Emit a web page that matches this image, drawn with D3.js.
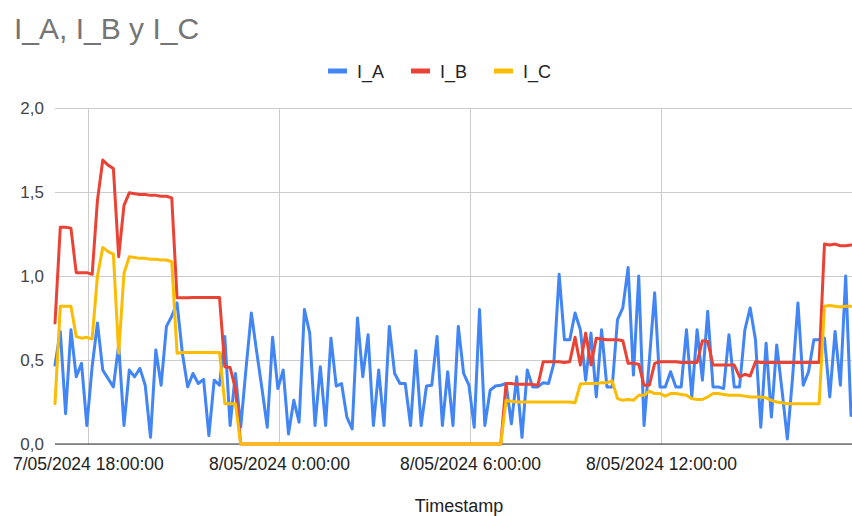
<!DOCTYPE html>
<html>
<head>
<meta charset="utf-8">
<script src="https://cdn.jsdelivr.net/npm/d3@7"></script>
<style>
  html, body { margin: 0; padding: 0; background: #fff; }
  svg { display: block; font-family: Arial, "Liberation Sans", sans-serif; }
</style>
</head>
<body>
<svg id="chart" width="852" height="516"></svg>
<script>
// ---- Data ----
const title = "I_A, I_B y I_C";
const seriesNames = ["I_A", "I_B", "I_C"];
const seriesColors = ["#4285F4", "#EA4335", "#FBBC04"];
const startTime = "2024-05-07T16:58:00";  // first sample
const stepMinutes = 10;                    // sampling interval
const yTicks = [0, 0.5, 1.0, 1.5, 2.0];
const xTickTimes = ["2024-05-07T18:00:00", "2024-05-08T00:00:00", "2024-05-08T06:00:00", "2024-05-08T12:00:00"];
const xTitle = "Timestamp";

const I_A = [
  0.47, 0.67, 0.18, 0.68, 0.40, 0.48, 0.11, 0.46, 0.72, 0.44,
  0.39, 0.34, 0.59, 0.11, 0.44, 0.40, 0.45, 0.35, 0.04, 0.56,
  0.35, 0.70, 0.76, 0.84, 0.54, 0.34, 0.42, 0.36, 0.385, 0.05,
  0.38, 0.35, 0.64, 0.11, 0.42, 0.10, 0.45, 0.78, 0.55, 0.33,
  0.10, 0.635, 0.33, 0.44, 0.06, 0.26, 0.13, 0.80, 0.66, 0.11,
  0.46, 0.11, 0.63, 0.345, 0.36, 0.16, 0.09, 0.75, 0.40, 0.65,
  0.11, 0.44, 0.11, 0.70, 0.42, 0.36, 0.36, 0.11, 0.555, 0.11,
  0.345, 0.35, 0.64, 0.11, 0.43, 0.11, 0.70, 0.42, 0.35, 0.10,
  0.80, 0.11, 0.32, 0.345, 0.35, 0.36, 0.12, 0.40, 0.04, 0.44,
  0.34, 0.34, 0.365, 0.36, 0.48, 1.01, 0.62, 0.62, 0.78, 0.68,
  0.38, 0.66, 0.28, 0.68, 0.34, 0.34, 0.74, 0.81, 1.05, 0.41,
  1.00, 0.11, 0.50, 0.90, 0.34, 0.34, 0.43, 0.34, 0.34, 0.68,
  0.28, 0.68, 0.38, 0.79, 0.34, 0.34, 0.33, 0.65, 0.34, 0.34,
  0.68, 0.81, 0.62, 0.10, 0.60, 0.16, 0.59, 0.32, 0.03, 0.40,
  0.84, 0.35, 0.43, 0.62, 0.62, 0.63, 0.28, 0.67, 0.35, 1.00,
  0.17
];
const I_B = [
  0.72, 1.29, 1.29, 1.285, 1.02, 1.02, 1.02, 1.01, 1.45, 1.69,
  1.66, 1.64, 1.115, 1.42, 1.495, 1.49, 1.485, 1.485, 1.48, 1.48,
  1.475, 1.475, 1.465, 0.87, 0.87, 0.87, 0.872, 0.872, 0.872, 0.872,
  0.872, 0.872, 0.46, 0.455, 0.33, 0, 0, 0, 0, 0,
  0, 0, 0, 0, 0, 0, 0, 0, 0, 0,
  0, 0, 0, 0, 0, 0, 0, 0, 0, 0,
  0, 0, 0, 0, 0, 0, 0, 0, 0, 0,
  0, 0, 0, 0, 0, 0, 0, 0, 0, 0,
  0, 0, 0, 0, 0, 0.36, 0.36, 0.355, 0.355, 0.355,
  0.355, 0.35, 0.49, 0.49, 0.49, 0.49, 0.485, 0.49, 0.635, 0.47,
  0.66, 0.47, 0.63, 0.625, 0.62, 0.62, 0.62, 0.615, 0.48, 0.48,
  0.475, 0.35, 0.35, 0.48, 0.49, 0.49, 0.49, 0.49, 0.485, 0.485,
  0.485, 0.485, 0.615, 0.61, 0.47, 0.47, 0.47, 0.47, 0.47, 0.40,
  0.415, 0.405, 0.49, 0.485, 0.485, 0.485, 0.485, 0.485, 0.485, 0.485,
  0.485, 0.485, 0.485, 0.485, 0.485, 1.19, 1.185, 1.19, 1.18, 1.18,
  1.185
];
const I_C = [
  0.24, 0.82, 0.82, 0.82, 0.64, 0.63, 0.635, 0.625, 1.00, 1.17,
  1.145, 1.13, 0.54, 1.016, 1.115, 1.11, 1.105, 1.105, 1.10, 1.10,
  1.095, 1.095, 1.085, 0.54, 0.545, 0.545, 0.545, 0.545, 0.545, 0.545,
  0.545, 0.545, 0.24, 0.24, 0.24, 0, 0, 0, 0, 0,
  0, 0, 0, 0, 0, 0, 0, 0, 0, 0,
  0, 0, 0, 0, 0, 0, 0, 0, 0, 0,
  0, 0, 0, 0, 0, 0, 0, 0, 0, 0,
  0, 0, 0, 0, 0, 0, 0, 0, 0, 0,
  0, 0, 0, 0, 0, 0.26, 0.255, 0.25, 0.25, 0.25,
  0.25, 0.25, 0.25, 0.25, 0.25, 0.25, 0.25, 0.25, 0.245, 0.357,
  0.36, 0.36, 0.36, 0.365, 0.365, 0.375, 0.27, 0.26, 0.265, 0.26,
  0.29, 0.29, 0.315, 0.30, 0.30, 0.285, 0.30, 0.30, 0.295, 0.29,
  0.27, 0.265, 0.265, 0.28, 0.30, 0.30, 0.295, 0.29, 0.29, 0.29,
  0.285, 0.28, 0.28, 0.28, 0.275, 0.26, 0.25, 0.245, 0.24, 0.24,
  0.24, 0.24, 0.24, 0.24, 0.24, 0.82, 0.825, 0.82, 0.815, 0.82,
  0.82
];
const seriesValues = [I_A, I_B, I_C];

// ---- Build ----
const svg = d3.select("#chart");
const W = 852, H = 516;
const margin = { left: 55, right: 1, top: 108, bottom: 72 };

const t0 = new Date(startTime);
const times = I_A.map((_, i) => d3.timeMinute.offset(t0, i * stepMinutes));

const x = d3.scaleTime()
  .domain(d3.extent(times))
  .range([margin.left, W - margin.right]);
const y = d3.scaleLinear()
  .domain([0, 2])
  .range([H - margin.bottom, margin.top]);

svg.append("rect").attr("width", W).attr("height", H).attr("fill", "#fff");

// Title
svg.append("text")
  .attr("x", 14).attr("y", 39)
  .attr("font-size", 30).attr("fill", "#757575")
  .text(title);

// Horizontal gridlines
const yAxis = d3.axisLeft(y).tickValues(yTicks)
  .tickFormat(d => d3.format(".1f")(d).replace(".", ","))
  .tickSize(-(W - margin.left)).tickPadding(11);
const gy = svg.append("g").attr("transform", `translate(${margin.left},0)`).call(yAxis);
gy.select(".domain").remove();
gy.selectAll(".tick line").attr("stroke", "#cccccc").attr("shape-rendering", "crispEdges")
  .attr("x2", W - margin.left);
gy.selectAll(".tick text").attr("font-size", 17).attr("fill", "#444")
  .attr("font-family", "Arial, 'Liberation Sans', sans-serif");

// Vertical gridlines + x labels
const xTickDates = xTickTimes.map(s => new Date(s));
const fmt = d3.timeFormat("%-d/%m/%Y %-H:%M:%S");
const xAxis = d3.axisBottom(x).tickValues(xTickDates).tickFormat(fmt)
  .tickSize(-(H - margin.bottom - margin.top)).tickPadding(14);
const gx = svg.append("g").attr("transform", `translate(0,${H - margin.bottom})`).call(xAxis);
gx.select(".domain").remove();
gx.selectAll(".tick line").attr("stroke", "#cccccc").attr("shape-rendering", "crispEdges");
gx.selectAll(".tick text").attr("font-size", 17.5).attr("fill", "#222")
  .attr("font-family", "Arial, 'Liberation Sans', sans-serif");

// Baseline
svg.append("line")
  .attr("x1", margin.left).attr("x2", W)
  .attr("y1", y(0)).attr("y2", y(0))
  .attr("stroke", "#333").attr("stroke-width", 1.2);

// Lines
const line = d3.line().x((d, i) => x(times[i])).y(d => y(d));
seriesValues.forEach((vals, k) => {
  svg.append("path")
    .datum(vals)
    .attr("d", line)
    .attr("fill", "none")
    .attr("stroke", seriesColors[k])
    .attr("stroke-width", 3)
    .attr("stroke-linejoin", "round")
    .attr("stroke-linecap", "round");
});

// Legend
const legend = svg.append("g");
const legendStarts = [328, 411, 494];
seriesNames.forEach((name, k) => {
  const lx = legendStarts[k];
  legend.append("line")
    .attr("x1", lx).attr("x2", lx + 19)
    .attr("y1", 71).attr("y2", 71)
    .attr("stroke", seriesColors[k]).attr("stroke-width", 5);
  legend.append("text")
    .attr("x", lx + 29).attr("y", 77.5)
    .attr("font-size", 18).attr("fill", "#222")
    .text(name);
});

// X axis title
svg.append("text")
  .attr("x", 459).attr("y", 512)
  .attr("text-anchor", "middle")
  .attr("font-size", 18).attr("fill", "#222")
  .text(xTitle);
</script>
</body>
</html>
